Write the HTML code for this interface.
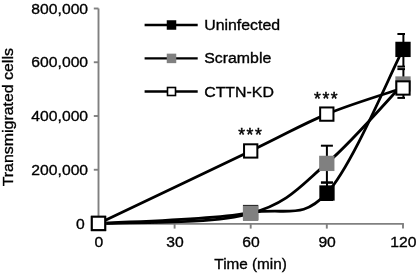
<!DOCTYPE html><html><head><meta charset="utf-8"><title>Transmigrated cells</title><style>html,body{margin:0;padding:0;background:#fff;overflow:hidden}body{width:417px;height:275px;position:relative}</style></head><body><svg width="417" height="275" viewBox="0 0 417 275" style="display:block;position:absolute;left:0;top:0">
<rect width="417" height="275" fill="#fff"/><defs><filter id="bl" x="0" y="0" width="417" height="275" filterUnits="userSpaceOnUse"><feGaussianBlur stdDeviation="0.4"/></filter></defs><g filter="url(#bl)">
<g font-family="'Liberation Sans', Arial, Helvetica, sans-serif" font-size="15.7" fill="#000">
<g stroke="#808080" stroke-width="1.9" fill="none">
<path d="M98.5 8.5V223.85"/>
<path d="M97.6 223.85H403.9"/>
<path d="M93.8 8.50H98.5"/>
<path d="M93.8 62.25H98.5"/>
<path d="M93.8 116.00H98.5"/>
<path d="M93.8 169.75H98.5"/>
<path d="M174.60 223.85V228.6"/>
<path d="M250.70 223.85V228.6"/>
<path d="M326.80 223.85V228.6"/>
<path d="M403.00 223.85V228.6"/>
</g>
<text transform="translate(88.10 13.50) scale(1.0260 1)" text-anchor="end" font-size="15.3" stroke="#000" stroke-width="0.35">800,000</text>
<text transform="translate(88.10 67.25) scale(1.0260 1)" text-anchor="end" font-size="15.3" stroke="#000" stroke-width="0.35">600,000</text>
<text transform="translate(88.10 121.00) scale(1.0260 1)" text-anchor="end" font-size="15.3" stroke="#000" stroke-width="0.35">400,000</text>
<text transform="translate(88.10 174.75) scale(1.0260 1)" text-anchor="end" font-size="15.3" stroke="#000" stroke-width="0.35">200,000</text>
<text transform="translate(84.70 228.50) scale(1.0260 1)" text-anchor="end" font-size="15.3" stroke="#000" stroke-width="0.35">0</text>
<text transform="translate(98.80 247.00) scale(1.0330 1)" text-anchor="middle" font-size="15.2" stroke="#000" stroke-width="0.35">0</text>
<text transform="translate(174.90 247.00) scale(1.0330 1)" text-anchor="middle" font-size="15.2" stroke="#000" stroke-width="0.35">30</text>
<text transform="translate(251.00 247.00) scale(1.0330 1)" text-anchor="middle" font-size="15.2" stroke="#000" stroke-width="0.35">60</text>
<text transform="translate(327.10 247.00) scale(1.0330 1)" text-anchor="middle" font-size="15.2" stroke="#000" stroke-width="0.35">90</text>
<text transform="translate(403.30 247.00) scale(1.0330 1)" text-anchor="middle" font-size="15.2" stroke="#000" stroke-width="0.35">120</text>
<text transform="translate(250.60 269.20) scale(1.0000 1)" text-anchor="middle" font-size="15.3" stroke="#000" stroke-width="0.35">Time (min)</text>
<text transform="translate(13.40 186.30) rotate(-90) scale(1.0680 1)" text-anchor="start" font-size="14.9" stroke="#000" stroke-width="0.35">Transmigrated cells</text>
<defs><clipPath id="cl"><rect x="0" y="0" width="404.9" height="275"/></clipPath></defs>
<path d="M98.50 223.50 C123.85 221.68 212.52 220.03 250.60 212.55 C288.68 207.47 301.60 220.19 327.00 193.00 C352.40 165.81 390.33 73.33 403.00 49.40" fill="none" stroke="#000" stroke-width="2.8"/>
<g stroke="#000" stroke-width="2" fill="none"><path d="M327.00 182.50V200.00"/><path d="M321.00 182.50H333.00"/><path d="M321.00 200.00H333.00"/></g>
<g stroke="#000" stroke-width="2" fill="none" clip-path="url(#cl)"><path d="M403.40 34.00V66.60"/><path d="M397.40 34.00H409.40"/><path d="M397.40 66.60H409.40"/></g>
<rect x="90.85" y="215.85" width="15.30" height="15.30" fill="#000"/>
<rect x="242.95" y="204.90" width="15.30" height="15.30" fill="#000"/>
<rect x="319.35" y="185.35" width="15.30" height="15.30" fill="#000"/>
<rect x="395.35" y="41.75" width="15.30" height="15.30" fill="#000"/>
<path d="M98.50 223.50 C123.85 221.80 212.55 224.92 250.60 213.30 C288.65 203.28 301.40 184.95 326.80 163.40 C352.20 141.85 390.30 97.23 403.00 84.00" fill="none" stroke="#000" stroke-width="2.8"/>
<g stroke="#000" stroke-width="2" fill="none"><path d="M326.90 145.70V182.60"/><path d="M320.90 145.70H332.90"/><path d="M320.90 182.60H332.90"/></g>
<g stroke="#000" stroke-width="2" fill="none" clip-path="url(#cl)"><path d="M403.40 69.10V90.00"/><path d="M397.40 69.10H409.40"/></g>
<rect x="90.85" y="215.85" width="15.30" height="15.30" fill="#808080"/>
<rect x="242.95" y="205.65" width="15.30" height="15.30" fill="#808080"/>
<rect x="319.15" y="155.75" width="15.30" height="15.30" fill="#808080"/>
<rect x="395.35" y="76.35" width="15.30" height="15.30" fill="#808080"/>
<path d="M98.50 223.40 C123.87 211.32 212.65 169.17 250.70 150.95 C288.75 132.73 301.42 124.59 326.80 114.10 C352.18 103.61 390.30 92.35 403.00 88.00" fill="none" stroke="#000" stroke-width="2.8"/>
<g stroke="#000" stroke-width="2" fill="none" clip-path="url(#cl)"><path d="M403.40 85.00V97.90"/><path d="M397.40 97.90H409.40"/></g>
<rect x="91.85" y="216.75" width="13.30" height="13.30" fill="#fff" stroke="#000" stroke-width="2"/>
<rect x="244.05" y="144.30" width="13.30" height="13.30" fill="#fff" stroke="#000" stroke-width="2"/>
<rect x="320.15" y="107.45" width="13.30" height="13.30" fill="#fff" stroke="#000" stroke-width="2"/>
<rect x="396.35" y="81.35" width="13.30" height="13.30" fill="#fff" stroke="#000" stroke-width="2"/>
<text x="250.8" y="140.7" text-anchor="middle" font-size="17.5" letter-spacing="1.6" stroke="#000" stroke-width="0.5">***</text>
<text x="326.6" y="105.3" text-anchor="middle" font-size="17.5" letter-spacing="1.6" stroke="#000" stroke-width="0.5">***</text>
<path d="M144.6 25.00H197.7" stroke="#000" stroke-width="2.3" fill="none"/>
<rect x="166.75" y="20.25" width="9.5" height="9.5" fill="#000"/>
<text transform="translate(204.20 30.00) scale(1.0600 1)" text-anchor="start" font-size="15.0" stroke="#000" stroke-width="0.35">Uninfected</text>
<path d="M144.6 58.40H197.7" stroke="#000" stroke-width="2.3" fill="none"/>
<rect x="166.75" y="53.65" width="9.5" height="9.5" fill="#808080"/>
<text transform="translate(204.20 63.40) scale(1.0600 1)" text-anchor="start" font-size="15.0" stroke="#000" stroke-width="0.35">Scramble</text>
<path d="M144.6 91.50H197.7" stroke="#000" stroke-width="2.3" fill="none"/>
<rect x="167.50" y="87.50" width="8" height="8" fill="#fff" stroke="#000" stroke-width="1.6"/>
<text transform="translate(204.20 96.50) scale(1.0600 1)" text-anchor="start" font-size="15.0" stroke="#000" stroke-width="0.35">CTTN-KD</text>
</g></g></svg></body></html>
